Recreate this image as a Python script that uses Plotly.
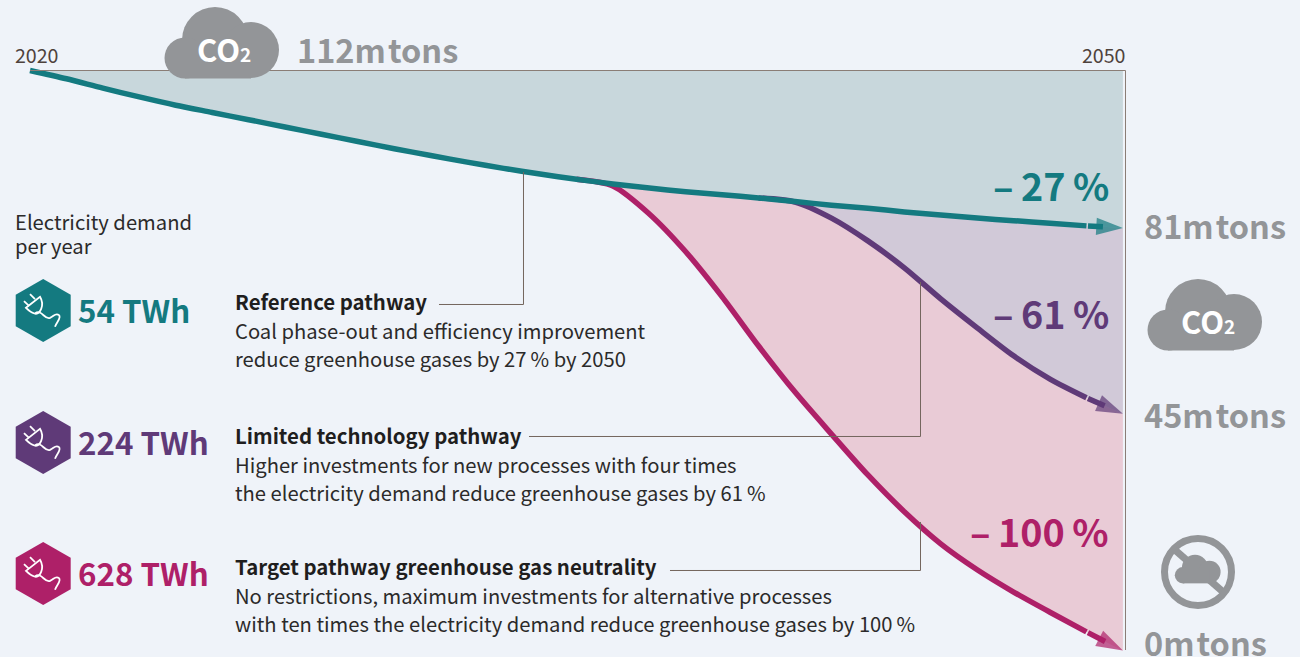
import plotly.graph_objects as go

W, H = 1300, 657
FONT = "Noto Sans CJK SC"
BG = "#eff3f9"
GREY = "#939598"
TEAL = "#147a80"
PURPLE = "#5f3a78"
MAGENTA = "#ae2068"
INK = "#2b2a2a"
LEADER = "#74665e"

years = list(range(2020, 2051))
reference = [112, 110.4, 108.6, 106.9, 105.3, 103.9, 102.5, 101.1, 99.7, 98.3, 96.9,
             95.6, 94.3, 93.1, 92.0, 91.0, 90.1, 89.3, 88.6, 88.0, 87.4,
             86.7, 86.0, 85.4, 84.7, 84.1, 83.5, 83.0, 82.5, 82.0, 81.6]
limited = reference[:21] + [86.6, 83.5, 79.1, 73.9, 67.9, 62.3, 56.9, 52.4, 48.8, 45.7]
target = reference[:16] + [89.7, 84.3, 77.0, 68.3, 58.8, 49.9, 41.8, 33.9, 26.8, 20.6,
                           15.6, 11.3, 7.4, 3.6, 0.0]
top_line = [112] * len(years)
axis_years = [2020, 2050]

demand_title = ["Electricity demand", "per year"]
demand_labels = ["54 TWh", "224 TWh", "628 TWh"]
pathway_titles = ["Reference pathway", "Limited technology pathway", "Target pathway greenhouse gas neutrality"]
pathway_lines = [
    ["Coal phase-out and efficiency improvement", "reduce greenhouse gases by 27\u2009% by 2050"],
    ["Higher investments for new processes with four times", "the electricity demand reduce greenhouse gases by 61\u2009%"],
    ["No restrictions, maximum investments for alternative processes", "with ten times the electricity demand reduce greenhouse gases by 100\u2009%"],
]
reductions = ["\u2013\u200927\u2009%", "\u2013\u200961\u2009%", "\u2013\u2009100\u2009%"]
tons = ["112m\u200atons", "81m\u200atons", "45m\u200atons", "0m\u200atons"]

PXY = 5.179
PXX = 36.43


def px(x):
    return x / W


def py(y):
    return 1 - y / H


fig = go.Figure()


def fill_between(lower, color):
    fig.add_trace(go.Scatter(x=years, y=lower, mode="lines", fill="tonexty", fillcolor=color,
                             line=dict(width=0, shape="spline", smoothing=0.8, color=color),
                             hoverinfo="skip", showlegend=False))


fig.add_trace(go.Scatter(x=years, y=top_line, mode="lines", line=dict(width=0), hoverinfo="skip", showlegend=False))
fill_between(reference, "#c8d7dc")
fill_between(limited, "#d1c9d8")
fill_between(target, "#e9cbd6")

annotations = []


def curve(values, start, color):
    fig.add_trace(go.Scatter(x=years[start:-1], y=values[start:-1], mode="lines",
                             line=dict(color=color, width=5.5, shape="spline", smoothing=0.8),
                             hoverinfo="skip", showlegend=False))
    fig.add_trace(go.Scatter(x=years[-2:], y=values[-2:], mode="markers",
                             marker=dict(symbol="arrow", size=[0, 28], color=color, angleref="previous",
                                         line=dict(width=0)),
                             hoverinfo="skip", showlegend=False))
    annotations.append(dict(x=years[-1], y=values[-1], ax=years[-2], ay=values[-2],
                            xref="x", yref="y", axref="x", ayref="y", text="",
                            showarrow=True, arrowhead=0, arrowwidth=5.5, arrowcolor=color, standoff=20))


curve(target, 15, MAGENTA)
curve(limited, 20, PURPLE)
curve(reference, 0, TEAL)

shapes = []


def line_px(points, color=LEADER, width=1):
    d = "M" + " L".join(f"{px(x):.5f},{py(y):.5f}" for x, y in points)
    shapes.append(dict(type="path", path=d, xref="paper", yref="paper",
                       line=dict(color=color, width=width), layer="above"))


def circle_px(cx, cy, r, fill=GREY, line=None, lw=0):
    shapes.append(dict(type="circle", xref="paper", yref="paper",
                       x0=px(cx - r), x1=px(cx + r), y0=py(cy + r), y1=py(cy - r),
                       fillcolor=fill, line=dict(color=line or fill, width=lw), layer="above"))


def rect_px(x0, y0, x1, y1, fill=GREY):
    shapes.append(dict(type="rect", xref="paper", yref="paper", x0=px(x0), x1=px(x1),
                       y0=py(y1), y1=py(y0), fillcolor=fill, line=dict(width=0), layer="above"))


def cloud(dx, dy, s=1.0):
    circle_px(dx + 215 * s, dy + 40 * s, 33 * s)
    circle_px(dx + 251 * s, dy + 50 * s, 28 * s)
    circle_px(dx + 185 * s, dy + 58 * s, 20.5 * s)
    rect_px(dx + 185 * s, dy + 45 * s, dx + 251 * s, dy + 78.4 * s)


def hexagon(cy, color):
    cx = 43.2
    rx, ry = 27.5, 31.5
    pts = [(cx, cy - ry), (cx + rx, cy - ry / 2), (cx + rx, cy + ry / 2),
           (cx, cy + ry), (cx - rx, cy + ry / 2), (cx - rx, cy - ry / 2)]
    d = "M" + " L".join(f"{px(x):.5f},{py(y):.5f}" for x, y in pts) + " Z"
    shapes.append(dict(type="path", path=d, xref="paper", yref="paper", fillcolor=color,
                       line=dict(width=0), layer="above"))
    ox, oy = 15, cy - 32

    def P(a, b):
        return f"{px(ox + a / 3):.5f},{py(oy + b / 3):.5f}"

    def stroke(d):
        shapes.append(dict(type="path", path=d, xref="paper", yref="paper",
                           line=dict(color="white", width=1.8), layer="above"))

    stroke(f"M{P(45, 47)} L{P(60, 62)}")
    stroke(f"M{P(27, 68)} L{P(42, 82)}")
    stroke(f"M{P(33, 88)} L{P(75, 55)} C{P(90, 80)} {P(75, 110)} {P(58, 105)} C{P(48, 102)} {P(40, 95)} {P(33, 88)} Z")
    stroke(f"M{P(60, 105)} C{P(80, 90)} {P(88, 125)} {P(105, 118)} C{P(118, 112)} {P(122, 102)} {P(132, 110)} C{P(140, 118)} {P(125, 130)} {P(120, 145)}")


# frame lines
line_px([(30, 70.5), (1125.5, 70.5), (1125.5, 650)], color="#8a7d76", width=1)

# leaders
line_px([(439, 304.5), (523.5, 304.5), (523.5, 172)])
line_px([(529, 436.5), (920.5, 436.5), (920.5, 282)])
line_px([(670, 570.5), (920.5, 570.5), (920.5, 522)])

# clouds
cloud(0, 0)
cloud(983, 272)
circle_px(1198, 572, 33.5, fill="rgba(0,0,0,0)", line=GREY, lw=7)
line_px([(1175, 550), (1222, 591)], color=GREY, width=7)
cloud(1109, 552, 0.4)

for cy, c in zip((310.5, 442.5, 573.5), (TEAL, PURPLE, MAGENTA)):
    hexagon(cy, c)


def text_px(s, x, y, size, color=INK, bold=False, anchor="left"):
    annotations.append(dict(
        text=f"<b>{s}</b>" if bold else s,
        x=px(x), y=py(y), xref="paper", yref="paper", xanchor=anchor, yanchor="middle",
        showarrow=False, align=anchor, borderpad=0, borderwidth=0,
        font=dict(family=FONT, size=size, color=color)))


text_px(str(axis_years[0]), 15, 54, 19.6, "#4e423c")
text_px(str(axis_years[1]), 1126, 54, 19.6, "#4e423c", anchor="right")

text_px(tons[0], 297, 48, 32.5, GREY, True)
text_px(tons[1], 1144, 224, 32.5, GREY, True)
text_px(tons[2], 1144, 413, 32.5, GREY, True)
text_px(tons[3], 1144, 641, 32.5, GREY, True)

co2 = 'CO<span style="font-size:19px">2</span>'
text_px(co2, 224, 48, 31, "white", True, anchor="center")
text_px(co2, 1208, 320, 31, "white", True, anchor="center")

text_px(demand_title[0], 15, 221, 20.2)
text_px(demand_title[1], 15, 245, 20.2)

for s, y, c in zip(demand_labels, (309, 441, 572), (TEAL, PURPLE, MAGENTA)):
    text_px(s, 78, y, 31.3, c, True)

for s, y, c in zip(reductions, (184, 312, 530), (TEAL, PURPLE, MAGENTA)):
    text_px(s, 1109, y, 37.7, c, True, anchor="right")

for title, lines, y in zip(pathway_titles, pathway_lines, (301, 435, 566)):
    text_px(title, 235, y, 20.4, "#1f1e1e", True)
    text_px(lines[0], 235, y + 29, 20.2)
    text_px(lines[1], 235, y + 57, 20.2)

fig.update_layout(
    width=W, height=H, autosize=False, margin=dict(l=0, r=0, t=0, b=0),
    paper_bgcolor=BG, plot_bgcolor=BG, showlegend=False,
    xaxis=dict(visible=False, range=[2020 - 30 / PXX, 2020 + 1270 / PXX], fixedrange=True),
    yaxis=dict(visible=False, range=[112 - 586.5 / PXY, 112 + 70.5 / PXY], fixedrange=True),
    shapes=shapes, annotations=annotations,
)
fig.write_html("out.html", config={"displayModeBar": False},
               post_script="document.body.style.margin='0';document.body.style.background='%s';document.documentElement.style.overflow='hidden';" % BG)
